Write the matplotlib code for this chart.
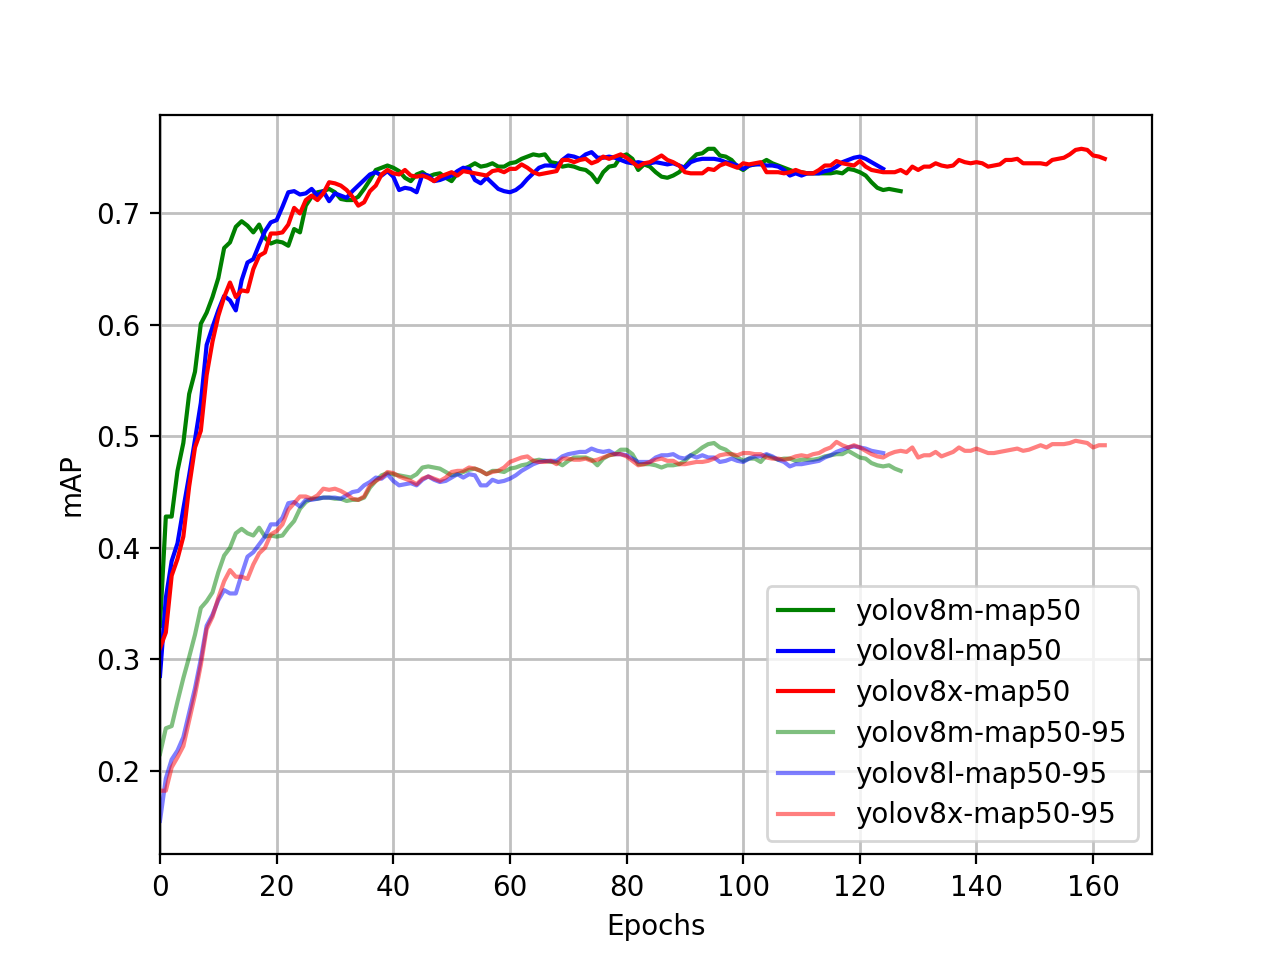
import numpy as np
import matplotlib
matplotlib.use('Agg')
import matplotlib.pyplot as plt

# mAP50 per epoch
m_map50 = [0.33, 0.428, 0.428, 0.469, 0.494, 0.538, 0.558, 0.601, 0.611, 0.625,
           0.642, 0.669, 0.674, 0.688, 0.693, 0.689, 0.683, 0.690, 0.678, 0.673,
           0.675, 0.674, 0.671, 0.686, 0.683, 0.707, 0.715, 0.719, 0.720, 0.722,
           0.719, 0.713, 0.712, 0.712, 0.715, 0.722, 0.730, 0.739, 0.741, 0.743,
           0.741, 0.738, 0.732, 0.729, 0.735, 0.737, 0.733, 0.735, 0.736, 0.732,
           0.729, 0.736, 0.740, 0.742, 0.745, 0.742, 0.743, 0.745, 0.742, 0.742,
           0.745, 0.746, 0.749, 0.751, 0.753, 0.752, 0.753, 0.746, 0.745, 0.742,
           0.743, 0.742, 0.740, 0.739, 0.735, 0.728, 0.737, 0.742, 0.743, 0.751,
           0.753, 0.749, 0.739, 0.744, 0.742, 0.737, 0.733, 0.732, 0.734, 0.737,
           0.742, 0.748, 0.753, 0.754, 0.758, 0.758, 0.752, 0.751, 0.748, 0.742,
           0.739, 0.743, 0.744, 0.745, 0.748, 0.745, 0.743, 0.741, 0.739, 0.737,
           0.737, 0.736, 0.736, 0.736, 0.736, 0.736, 0.737, 0.736, 0.740, 0.739,
           0.737, 0.734, 0.728, 0.723, 0.721, 0.722, 0.721, 0.720]

l_map50 = [0.285, 0.355, 0.388, 0.404, 0.435, 0.465, 0.497, 0.530, 0.582, 0.598,
           0.613, 0.626, 0.622, 0.613, 0.640, 0.656, 0.659, 0.672, 0.684, 0.692,
           0.694, 0.706, 0.719, 0.720, 0.717, 0.718, 0.722, 0.716, 0.720, 0.711,
           0.718, 0.716, 0.714, 0.720, 0.725, 0.730, 0.735, 0.737, 0.734, 0.738,
           0.733, 0.721, 0.723, 0.722, 0.719, 0.735, 0.734, 0.729, 0.730, 0.732,
           0.734, 0.738, 0.741, 0.740, 0.730, 0.727, 0.732, 0.727, 0.722, 0.720,
           0.719, 0.721, 0.725, 0.731, 0.736, 0.741, 0.743, 0.743, 0.742, 0.748,
           0.752, 0.751, 0.749, 0.753, 0.755, 0.750, 0.750, 0.751, 0.750, 0.748,
           0.746, 0.745, 0.746, 0.745, 0.745, 0.746, 0.745, 0.744, 0.745, 0.743,
           0.741, 0.746, 0.748, 0.749, 0.749, 0.749, 0.748, 0.746, 0.745, 0.743,
           0.740, 0.743, 0.744, 0.744, 0.743, 0.743, 0.742, 0.739, 0.734, 0.736,
           0.734, 0.736, 0.736, 0.736, 0.738, 0.739, 0.742, 0.746, 0.748, 0.750,
           0.751, 0.749, 0.746, 0.743, 0.740]

x_map50 = [0.31, 0.324, 0.375, 0.390, 0.410, 0.455, 0.490, 0.505, 0.555, 0.585,
           0.608, 0.625, 0.638, 0.625, 0.631, 0.630, 0.650, 0.662, 0.665, 0.682,
           0.682, 0.683, 0.690, 0.705, 0.700, 0.712, 0.716, 0.712, 0.718, 0.728,
           0.727, 0.725, 0.721, 0.715, 0.707, 0.710, 0.720, 0.725, 0.735, 0.739,
           0.736, 0.735, 0.739, 0.734, 0.733, 0.734, 0.732, 0.729, 0.733, 0.735,
           0.737, 0.734, 0.738, 0.737, 0.736, 0.735, 0.734, 0.738, 0.739, 0.737,
           0.740, 0.740, 0.744, 0.741, 0.737, 0.735, 0.736, 0.737, 0.738, 0.748,
           0.748, 0.746, 0.748, 0.749, 0.745, 0.747, 0.751, 0.749, 0.751, 0.753,
           0.750, 0.746, 0.742, 0.745, 0.746, 0.749, 0.752, 0.748, 0.746, 0.743,
           0.737, 0.736, 0.736, 0.736, 0.740, 0.739, 0.743, 0.745, 0.743, 0.741,
           0.745, 0.744, 0.745, 0.746, 0.737, 0.737, 0.737, 0.736, 0.737, 0.739,
           0.737, 0.736, 0.736, 0.739, 0.743, 0.743, 0.747, 0.745, 0.744, 0.743,
           0.747, 0.742, 0.739, 0.738, 0.737, 0.737, 0.737, 0.739, 0.736, 0.742,
           0.739, 0.742, 0.742, 0.745, 0.743, 0.742, 0.743, 0.748, 0.746, 0.745,
           0.746, 0.745, 0.742, 0.743, 0.744, 0.748, 0.748, 0.749, 0.745, 0.745,
           0.745, 0.745, 0.744, 0.748, 0.749, 0.750, 0.753, 0.757, 0.758, 0.757,
           0.752, 0.751, 0.749]

# mAP50-95 per epoch
m_map5095 = [0.215, 0.238, 0.240, 0.262, 0.283, 0.302, 0.322, 0.346, 0.352, 0.360,
             0.378, 0.393, 0.400, 0.413, 0.417, 0.413, 0.411, 0.418, 0.410, 0.411,
             0.410, 0.411, 0.418, 0.424, 0.435, 0.441, 0.444, 0.444, 0.445, 0.445,
             0.444, 0.444, 0.442, 0.443, 0.443, 0.445, 0.454, 0.460, 0.465, 0.467,
             0.466, 0.465, 0.464, 0.463, 0.466, 0.472, 0.473, 0.472, 0.471, 0.468,
             0.465, 0.466, 0.468, 0.470, 0.471, 0.469, 0.466, 0.469, 0.469, 0.468,
             0.471, 0.472, 0.474, 0.475, 0.478, 0.479, 0.478, 0.477, 0.477, 0.474,
             0.478, 0.481, 0.481, 0.481, 0.479, 0.474, 0.480, 0.483, 0.484, 0.488,
             0.488, 0.484, 0.475, 0.475, 0.475, 0.474, 0.472, 0.474, 0.474, 0.475,
             0.478, 0.483, 0.486, 0.490, 0.493, 0.494, 0.490, 0.488, 0.484, 0.481,
             0.478, 0.480, 0.480, 0.477, 0.483, 0.481, 0.479, 0.480, 0.480, 0.478,
             0.479, 0.479, 0.479, 0.480, 0.482, 0.483, 0.484, 0.484, 0.487, 0.484,
             0.481, 0.480, 0.476, 0.474, 0.473, 0.474, 0.471, 0.469]

l_map5095 = [0.155, 0.193, 0.210, 0.218, 0.230, 0.252, 0.274, 0.300, 0.330, 0.340,
             0.353, 0.362, 0.359, 0.359, 0.376, 0.392, 0.396, 0.403, 0.410, 0.421,
             0.421, 0.427, 0.440, 0.441, 0.437, 0.443, 0.443, 0.444, 0.445, 0.445,
             0.445, 0.444, 0.447, 0.450, 0.451, 0.456, 0.459, 0.463, 0.462, 0.466,
             0.460, 0.456, 0.457, 0.458, 0.456, 0.461, 0.464, 0.461, 0.459, 0.460,
             0.463, 0.466, 0.463, 0.466, 0.465, 0.456, 0.456, 0.461, 0.459, 0.460,
             0.462, 0.465, 0.469, 0.472, 0.475, 0.477, 0.478, 0.478, 0.478, 0.482,
             0.484, 0.485, 0.486, 0.486, 0.489, 0.487, 0.486, 0.487, 0.484, 0.484,
             0.483, 0.480, 0.477, 0.477, 0.477, 0.481, 0.483, 0.483, 0.484, 0.481,
             0.480, 0.483, 0.481, 0.483, 0.481, 0.481, 0.477, 0.478, 0.480, 0.478,
             0.477, 0.480, 0.482, 0.482, 0.484, 0.482, 0.479, 0.477, 0.473, 0.475,
             0.475, 0.476, 0.477, 0.478, 0.481, 0.483, 0.486, 0.488, 0.490, 0.491,
             0.490, 0.489, 0.487, 0.486, 0.485]

x_map5095 = [0.182, 0.182, 0.203, 0.212, 0.222, 0.245, 0.268, 0.295, 0.327, 0.338,
             0.355, 0.370, 0.380, 0.374, 0.374, 0.372, 0.385, 0.395, 0.400, 0.412,
             0.415, 0.421, 0.434, 0.440, 0.446, 0.446, 0.444, 0.447, 0.453, 0.452,
             0.453, 0.451, 0.448, 0.444, 0.443, 0.446, 0.456, 0.460, 0.463, 0.468,
             0.467, 0.464, 0.462, 0.460, 0.457, 0.462, 0.464, 0.462, 0.460, 0.463,
             0.468, 0.469, 0.469, 0.472, 0.471, 0.469, 0.466, 0.468, 0.469, 0.472,
             0.477, 0.479, 0.481, 0.482, 0.478, 0.477, 0.477, 0.478, 0.475, 0.480,
             0.480, 0.479, 0.479, 0.480, 0.478, 0.479, 0.481, 0.483, 0.484, 0.484,
             0.482, 0.478, 0.474, 0.475, 0.477, 0.479, 0.480, 0.478, 0.478, 0.475,
             0.475, 0.476, 0.477, 0.477, 0.478, 0.480, 0.483, 0.484, 0.484, 0.483,
             0.485, 0.485, 0.484, 0.484, 0.481, 0.480, 0.480, 0.479, 0.480, 0.482,
             0.483, 0.482, 0.484, 0.485, 0.488, 0.490, 0.495, 0.492, 0.490, 0.492,
             0.490, 0.487, 0.484, 0.482, 0.481, 0.484, 0.486, 0.487, 0.486, 0.490,
             0.481, 0.483, 0.483, 0.486, 0.482, 0.484, 0.486, 0.490, 0.487, 0.487,
             0.489, 0.487, 0.485, 0.485, 0.486, 0.487, 0.488, 0.489, 0.487, 0.488,
             0.490, 0.492, 0.490, 0.493, 0.493, 0.493, 0.494, 0.496, 0.495, 0.494,
             0.490, 0.492, 0.492]

fig = plt.figure(figsize=(6.4, 4.8), dpi=200)

plt.plot(np.arange(len(m_map50)), m_map50, color='g', label='yolov8m-map50')
plt.plot(np.arange(len(l_map50)), l_map50, color='b', label='yolov8l-map50')
plt.plot(np.arange(len(x_map50)), x_map50, color='r', label='yolov8x-map50')
plt.plot(np.arange(len(m_map5095)), m_map5095, color='g', alpha=0.5,
         label='yolov8m-map50-95')
plt.plot(np.arange(len(l_map5095)), l_map5095, color='b', alpha=0.5,
         label='yolov8l-map50-95')
plt.plot(np.arange(len(x_map5095)), x_map5095, color='r', alpha=0.5,
         label='yolov8x-map50-95')

plt.xlim(left=0)
plt.xlabel('Epochs')
plt.ylabel('mAP')
plt.grid(color='#c0c0c0', linewidth=1.0)
plt.legend(loc='lower right', labelspacing=0.46)

plt.savefig('out.png', dpi=200)
